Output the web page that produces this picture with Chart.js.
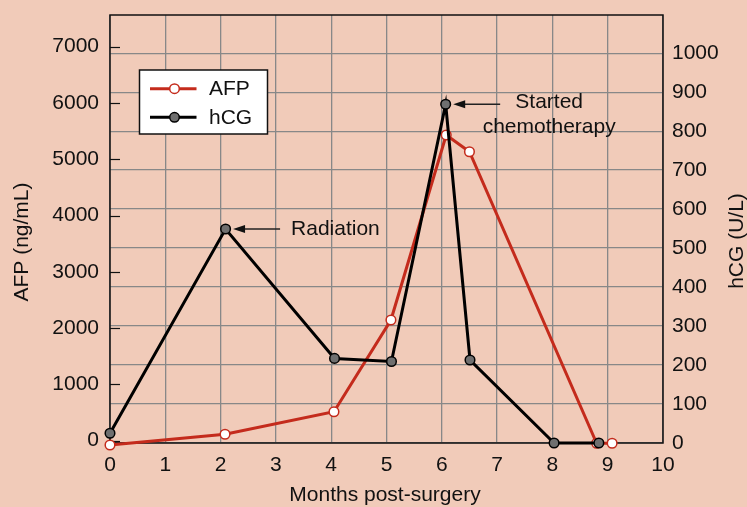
<!DOCTYPE html>
<html><head><meta charset="utf-8">
<script src="https://cdn.jsdelivr.net/npm/chart.js@4.4.0/dist/chart.umd.min.js"></script>
<style>html,body{margin:0;padding:0;background:#F1CBB9;}canvas{display:block;}</style>
</head><body>
<canvas id="c" width="747" height="507"></canvas>
<script>
// ---- data ----
const monthTicks = [0,1,2,3,4,5,6,7,8,9,10];
const afpTicks = [0,1000,2000,3000,4000,5000,6000,7000];
const hcgTicks = [0,100,200,300,400,500,600,700,800,900,1000];
const afpMonths = [0,2.08,4.05,5.08,6.08,6.5,8.8,9.08];
const afpValues = [-76,114,515,2144,5431,5134,-46,-46];
const hcgMonths = [0,2.09,4.06,5.09,6.07,6.51,8.03,8.84];
const hcgValues = [25,549,217,209,869,213,0,0];
const seriesNames = ['AFP','hCG'];
const xTitle = 'Months post-surgery';
const yLeftTitle = 'AFP (ng/mL)';
const yRightTitle = 'hCG (U/L)';
const notes = [
  {series:'hCG', index:1, lines:['Radiation']},
  {series:'hCG', index:4, lines:['Started','chemotherapy']}
];

const BG = '#F1CBB9', RED = '#C42B1C', GRID = '#888888', INK = '#111';
const FONT = '"Liberation Sans", Arial, Helvetica, sans-serif';
const FS = 21;

const toXY = (xs, ys) => xs.map((x,i)=>({x, y: ys[i]}));
const plain = v => String(v);

const decor = {
  id:'decor',
  beforeDraw(chart){
    const c = chart.ctx; c.save(); c.fillStyle = BG; c.fillRect(0,0,chart.width,chart.height); c.restore();
  },
  beforeDatasetsDraw(chart){
    const c = chart.ctx, a = chart.chartArea, yl = chart.scales.yL;
    c.save();
    c.strokeStyle = INK; c.lineWidth = 1.5;
    c.strokeRect(a.left, a.top, a.right-a.left, a.bottom-a.top);
    c.lineWidth = 1.2;
    afpTicks.forEach(v=>{ const y = Math.round(yl.getPixelForValue(v))+0.5; c.beginPath(); c.moveTo(a.left, y); c.lineTo(a.left+10, y); c.stroke(); });
    c.restore();
  },
  afterDatasetsDraw(chart){
    const c = chart.ctx, a = chart.chartArea;
    c.save();
    c.font = FS + 'px ' + FONT; c.fillStyle = INK;
    // annotations
    notes.forEach((n, k)=>{
      const di = seriesNames.indexOf(n.series);
      const el = chart.getDatasetMeta(di).data[n.index];
      const px = el.x, py = el.y;
      const tip = px + 7.5, tail = tip + 47;
      c.strokeStyle = '#222'; c.lineWidth = 1.5;
      c.beginPath(); c.moveTo(tip + 8, py); c.lineTo(tail, py); c.stroke();
      c.fillStyle = '#111';
      c.beginPath(); c.moveTo(tip, py); c.lineTo(tip+12, py-4); c.lineTo(tip+12, py+4); c.closePath(); c.fill();
      c.textBaseline = 'middle';
      if (n.lines.length === 1){
        c.textAlign = 'left'; c.fillText(n.lines[0], tail + 11, py);
      } else {
        c.textAlign = 'center';
        n.lines.forEach((t,i)=> c.fillText(t, tail + 49, py - 2.5 + i*25));
      }
    });
    // legend
    const lx = 139.5, ly = 70, lw = 128, lh = 64;
    c.fillStyle = '#fff'; c.fillRect(lx, ly, lw, lh);
    c.strokeStyle = INK; c.lineWidth = 1.5; c.strokeRect(lx, ly, lw, lh);
    chart.data.datasets.forEach((ds, i)=>{
      const y = ly + 18.7 + i*28.6;
      c.strokeStyle = ds.borderColor; c.lineWidth = 3;
      c.beginPath(); c.moveTo(lx+10.5, y); c.lineTo(lx+57, y); c.stroke();
      c.beginPath(); c.arc(lx+35, y, ds.pointRadius, 0, Math.PI*2);
      c.fillStyle = ds.pointBackgroundColor; c.fill();
      c.lineWidth = ds.pointBorderWidth; c.strokeStyle = ds.pointBorderColor; c.stroke();
      c.fillStyle = INK; c.textAlign = 'left'; c.textBaseline = 'middle';
      c.fillText(ds.label, lx + 69.5, y + 1);
    });
    // axis titles
    c.fillStyle = INK; c.textAlign = 'center'; c.textBaseline = 'middle';
    c.fillText(xTitle, (a.left + a.right)/2 - 1.5, 495);
    c.save(); c.translate(22, 242); c.rotate(-Math.PI/2); c.fillText(yLeftTitle, 0, 0); c.restore();
    c.save(); c.translate(737, 241); c.rotate(-Math.PI/2); c.fillText(yRightTitle, 0, 0); c.restore();
    c.restore();
  }
};

const tickFont = {family: FONT, size: FS};
new Chart(document.getElementById('c'), {
  type:'line',
  data:{
    datasets:[
      {label: seriesNames[0], data: toXY(afpMonths, afpValues), yAxisID:'yL', order:1,
       borderColor: RED, borderWidth:3, pointRadius:4.8, pointBorderWidth:1.5,
       pointBackgroundColor:'#fff', pointBorderColor: RED, clip:false, tension:0},
      {label: seriesNames[1], data: toXY(hcgMonths, hcgValues), yAxisID:'yR', order:0,
       borderColor: '#000', borderWidth:3, pointRadius:4.8, pointBorderWidth:1.5,
       pointBackgroundColor:'#6f6f6f', pointBorderColor: '#000', clip:false, tension:0}
    ]
  },
  options:{
    responsive:false, animation:false, devicePixelRatio:1,
    layout:{padding:{top:15, left:0, right:0, bottom:0}},
    plugins:{legend:{display:false}, tooltip:{enabled:false}},
    scales:{
      x:{type:'linear', min:0, max:10,
         afterBuildTicks: s => { s.ticks = monthTicks.map(v=>({value:v})); },
         afterFit: s => { s.height = 64; s.paddingLeft = 0; s.paddingRight = 0; },
         grid:{color:GRID, lineWidth:1.3, drawTicks:false}, border:{display:false},
         ticks:{font:tickFont, color:INK, padding:10, maxRotation:0, autoSkip:false, callback: plain}},
      yL:{position:'left', min:-41, max:7563,
         afterBuildTicks: s => { s.ticks = afpTicks.map(v=>({value:v})); },
         afterFit: s => { s.width = 110; s.paddingTop = 0; s.paddingBottom = 0; },
         grid:{display:false, drawTicks:false}, border:{display:false},
         ticks:{font:tickFont, color:INK, padding:11, callback: plain}},
      yR:{position:'right', min:0, max:1098,
         afterBuildTicks: s => { s.ticks = hcgTicks.map(v=>({value:v})); },
         afterFit: s => { s.width = 84; s.paddingTop = 0; s.paddingBottom = 0; },
         grid:{color:GRID, lineWidth:1.3, drawTicks:false}, border:{display:false},
         ticks:{font:tickFont, color:INK, padding:9, callback: plain}}
    }
  },
  plugins:[decor]
});
</script>
</body></html>
